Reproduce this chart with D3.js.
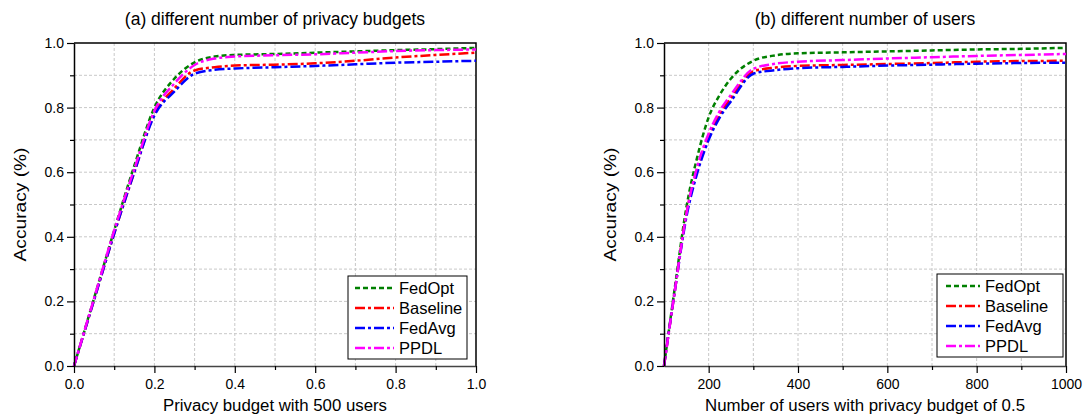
<!DOCTYPE html>
<html>
<head>
<meta charset="utf-8">
<script src="https://cdn.jsdelivr.net/npm/d3@7"></script>
<style>
body { margin: 0; background: #fff; }
text { font-family: Arial, "Liberation Sans", sans-serif; fill: #000; }
</style>
</head>
<body>
<script>
// (a) accuracy vs privacy budget, 500 users
var budgets = [0, 0.05, 0.1, 0.15, 0.2, 0.25, 0.3, 0.35, 0.4, 0.5, 0.6, 0.7, 0.8, 0.9, 1.0];
var fedOptA   = [0, 0.21, 0.42, 0.62, 0.80, 0.89, 0.94, 0.958, 0.963, 0.966, 0.970, 0.974, 0.978, 0.981, 0.985];
var baselineA = [0, 0.205, 0.41, 0.60, 0.78, 0.86, 0.915, 0.925, 0.930, 0.933, 0.937, 0.945, 0.955, 0.963, 0.970];
var fedAvgA   = [0, 0.205, 0.41, 0.60, 0.775, 0.85, 0.905, 0.917, 0.921, 0.925, 0.929, 0.934, 0.939, 0.942, 0.945];
var ppdlA     = [0, 0.21, 0.42, 0.61, 0.79, 0.875, 0.932, 0.952, 0.958, 0.962, 0.965, 0.970, 0.975, 0.978, 0.980];

// (b) accuracy vs number of users, budget 0.5
var users = [100, 125, 150, 175, 200, 225, 250, 300, 350, 400, 500, 600, 700, 800, 900, 1000];
var fedOptB   = [0, 0.25, 0.49, 0.65, 0.77, 0.84, 0.89, 0.945, 0.962, 0.968, 0.971, 0.974, 0.977, 0.980, 0.982, 0.985];
var baselineB = [0, 0.24, 0.47, 0.61, 0.71, 0.78, 0.83, 0.912, 0.924, 0.929, 0.932, 0.935, 0.938, 0.942, 0.944, 0.945];
var fedAvgB   = [0, 0.24, 0.46, 0.60, 0.70, 0.77, 0.82, 0.905, 0.916, 0.922, 0.926, 0.930, 0.933, 0.936, 0.938, 0.939];
var ppdlB     = [0, 0.24, 0.47, 0.62, 0.72, 0.79, 0.84, 0.920, 0.936, 0.942, 0.947, 0.952, 0.956, 0.960, 0.963, 0.966];

var seriesNames = ["FedOpt", "Baseline", "FedAvg", "PPDL"];
var yMajor = [0, 0.2, 0.4, 0.6, 0.8, 1.0];
var yMinor = [0.1, 0.3, 0.5, 0.7, 0.9];
var xMajorA = [0, 0.2, 0.4, 0.6, 0.8, 1.0];
var xMinorA = [0.1, 0.3, 0.5, 0.7, 0.9];
var xMajorB = [200, 400, 600, 800, 1000];
var xMinorB = [300, 500, 700, 900];

// line look for each series, same order as seriesNames
var colors = ["#008000", "#ff0000", "#0000ff", "#ff00ff"];
var dashes = ["5,3", "10,3,3,3", "10,3,3,3", "10,3,3,3"];

window.onload = function() {
    var svg = d3.select("body").append("svg")
        .attr("width", 1083)
        .attr("height", 418);

    drawPanel(svg, {
        left: 74, right: 476, top: 43, bottom: 366,
        domain: [0, 1], xMajor: xMajorA, xMinor: xMinorA, fmt: d3.format(".1f"),
        xs: budgets, ys: [fedOptA, baselineA, fedAvgA, ppdlA],
        title: "(a) different number of privacy budgets",
        xTitle: "Privacy budget with 500 users", xTitleLen: 224,
        yTitleX: 21,
        legend: { x: 348, y: 276, w: 119, h: 83, lineX0: 7, lineX1: 46, textX: 51 }
    });

    drawPanel(svg, {
        left: 664, right: 1066, top: 43, bottom: 366,
        domain: [100, 1000], xMajor: xMajorB, xMinor: xMinorB, fmt: d3.format("d"),
        xs: users, ys: [fedOptB, baselineB, fedAvgB, ppdlB],
        title: "(b) different number of users",
        xTitle: "Number of users with privacy budget of 0.5", xTitleLen: 320,
        yTitleX: 611,
        legend: { x: 937, y: 274, w: 126, h: 83, lineX0: 9, lineX1: 43, textX: 48 }
    });
};

function drawPanel(svg, p) {
    var x = d3.scaleLinear().domain(p.domain).range([p.left, p.right]);
    var y = d3.scaleLinear().domain([0, 1]).range([p.bottom, p.top]);
    var g = svg.append("g");

    // dashed grid at every major and minor tick
    var gx = p.xMajor.concat(p.xMinor).filter(function(d) { return d > p.domain[0] && d < p.domain[1]; });
    var gy = yMajor.concat(yMinor).filter(function(d) { return d > 0 && d < 1; });
    g.selectAll(".gx").data(gx).enter().append("line")
        .attr("x1", function(d) { return x(d); }).attr("x2", function(d) { return x(d); })
        .attr("y1", p.top).attr("y2", p.bottom)
        .attr("stroke", "#c8c8c8").attr("stroke-dasharray", "3,2");
    g.selectAll(".gy").data(gy).enter().append("line")
        .attr("y1", function(d) { return y(d); }).attr("y2", function(d) { return y(d); })
        .attr("x1", p.left).attr("x2", p.right)
        .attr("stroke", "#c8c8c8").attr("stroke-dasharray", "3,2");

    // frame (top + right)
    g.append("path")
        .attr("d", "M" + p.left + "," + p.top + "H" + p.right + "V" + p.bottom)
        .attr("fill", "none").attr("stroke", "#000").attr("stroke-width", 1.5);

    // series lines
    var line = d3.line().curve(d3.curveMonotoneX);
    p.ys.forEach(function(vals, i) {
        var pts = vals.map(function(v, j) { return [x(p.xs[j]), y(v)]; });
        g.append("path")
            .attr("d", line(pts))
            .attr("fill", "none")
            .attr("stroke", colors[i])
            .attr("stroke-width", 2.5)
            .attr("stroke-dasharray", dashes[i]);
    });

    // axes
    var xAxis = g.append("g").attr("transform", "translate(0," + p.bottom + ")")
        .call(d3.axisBottom(x).tickValues(p.xMajor).tickFormat(p.fmt).tickSize(7).tickSizeOuter(0).tickPadding(6));
    g.append("g").attr("transform", "translate(0," + p.bottom + ")")
        .call(d3.axisBottom(x).tickValues(p.xMinor).tickFormat("").tickSize(4).tickSizeOuter(0))
        .select(".domain").remove();
    g.append("g").attr("transform", "translate(" + p.left + ",0)")
        .call(d3.axisLeft(y).tickValues(yMajor).tickFormat(d3.format(".1f")).tickSize(7).tickSizeOuter(0).tickPadding(3));
    g.append("g").attr("transform", "translate(" + p.left + ",0)")
        .call(d3.axisLeft(y).tickValues(yMinor).tickFormat("").tickSize(4).tickSizeOuter(0))
        .select(".domain").remove();

    g.selectAll(".domain").attr("stroke", "#000").attr("stroke-width", 1.5);
    g.selectAll(".tick line").attr("stroke", "#000").attr("stroke-width", 1.2);
    g.selectAll(".tick text").style("font-size", "14px").style("font-family", "Arial, 'Liberation Sans', sans-serif").attr("fill", "#000");
    xAxis.select(".domain").attr("stroke", "#444");

    // titles
    var cx = (p.left + p.right) / 2;
    g.append("text").attr("x", cx).attr("y", 25).attr("text-anchor", "middle")
        .style("font-size", "17.5px").text(p.title);
    g.append("text").attr("x", cx).attr("y", 411).attr("text-anchor", "middle")
        .attr("textLength", p.xTitleLen).attr("lengthAdjust", "spacingAndGlyphs")
        .style("font-size", "16px").text(p.xTitle);
    g.append("text")
        .attr("transform", "translate(" + (p.yTitleX + 5) + "," + ((p.top + p.bottom) / 2) + ") rotate(-90)")
        .attr("text-anchor", "middle")
        .attr("textLength", 114).attr("lengthAdjust", "spacingAndGlyphs")
        .style("font-size", "16px").text("Accuracy (%)");

    // legend
    var L = p.legend;
    var lg = g.append("g").attr("transform", "translate(" + L.x + "," + L.y + ")");
    lg.append("rect").attr("width", L.w).attr("height", L.h)
        .attr("fill", "#fff").attr("stroke", "#000").attr("stroke-width", 1);
    seriesNames.forEach(function(name, i) {
        var ry = 12 + i * 20;
        lg.append("line")
            .attr("x1", L.lineX0).attr("x2", L.lineX1).attr("y1", ry).attr("y2", ry)
            .attr("stroke", colors[i]).attr("stroke-width", 2.5)
            .attr("stroke-dasharray", dashes[i]);
        lg.append("text").attr("x", L.textX).attr("y", ry + 6)
            .style("font-size", "16.5px").text(name);
    });
}
</script>
</body>
</html>
